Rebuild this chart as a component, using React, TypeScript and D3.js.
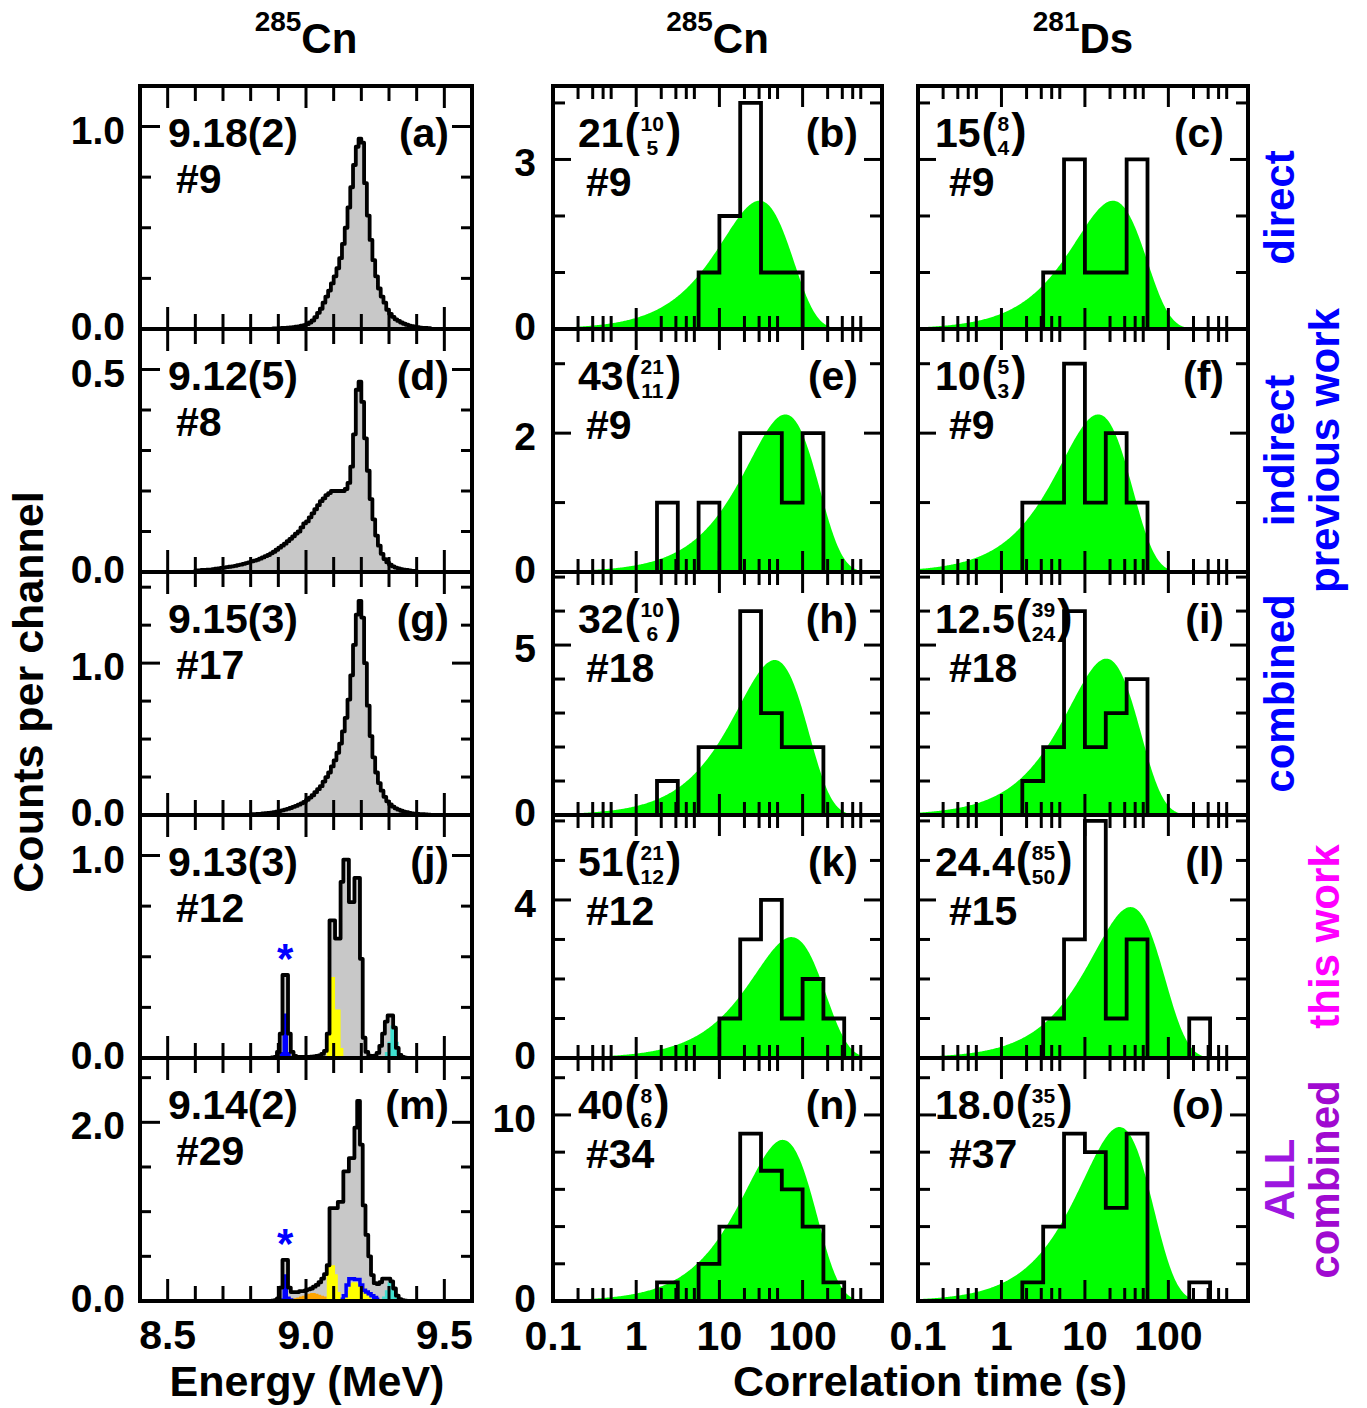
import * as d3 from 'd3';

const FONT = '"Liberation Sans", Arial, Helvetica, sans-serif';
const W = 1367;
const H = 1408;

// panel frames (pixels)
const colX: [number, number][] = [[140, 472], [553, 882], [918, 1248]];
const rowY = [86, 329, 572, 815, 1058, 1301];

// ---------- left column: alpha energy spectra (counts per 0.01 MeV channel) ----------
const energyDomain = [8.4, 9.6];
const channelWidth = 0.01;
const energyMax = [1.2, 0.6, 1.6, 1.2, 2.72];
const energyTickStep = [0.25, 0.1, 0.25, 0.25, 0.5];
const energyLabelTicks = [[0, 1], [0, 0.5], [0, 1], [0, 1], [0, 2]];
const energyTickLabels = [['0.0', '1.0'], ['0.0', '0.5'], ['0.0', '1.0'], ['0.0', '1.0'], ['0.0', '2.0']];

const specStart = [8.88, 8.6, 8.8, 8.855, 8.855];
const specA = [
  0.003, 0.003, 0.004, 0.005, 0.006, 0.007, 0.008, 0.009, 0.011, 0.013, 0.016, 0.019,
  0.024, 0.032, 0.042, 0.058, 0.08, 0.1, 0.13, 0.16, 0.19, 0.225,
  0.26, 0.3, 0.35, 0.42, 0.5, 0.6, 0.7, 0.81, 0.9, 0.94,
  0.92, 0.72, 0.56, 0.44, 0.34, 0.26, 0.2, 0.16, 0.13, 0.095,
  0.075, 0.06, 0.048, 0.04, 0.032, 0.026, 0.021, 0.017, 0.014, 0.011,
  0.009, 0.007, 0.006, 0.005, 0.004,
];
const specD = [
  0.004, 0.004, 0.005, 0.005, 0.006, 0.006, 0.007, 0.008, 0.009, 0.01,
  0.011, 0.012, 0.013, 0.014, 0.015, 0.017, 0.018, 0.02, 0.022, 0.024,
  0.026, 0.028, 0.03, 0.033, 0.036, 0.039, 0.042, 0.046, 0.05, 0.055,
  0.06, 0.065, 0.07, 0.076, 0.082, 0.088, 0.095, 0.1, 0.11, 0.12,
  0.125, 0.135, 0.145, 0.155, 0.165, 0.175, 0.182, 0.19, 0.195, 0.2,
  0.2, 0.2, 0.2, 0.2, 0.205, 0.22, 0.26, 0.34, 0.45, 0.47,
  0.42, 0.33, 0.25, 0.18, 0.13, 0.09, 0.065, 0.045, 0.032, 0.024,
  0.018, 0.014, 0.011, 0.009, 0.007, 0.006, 0.005, 0.004, 0.003, 0.003,
];
const specG = [
  0.005, 0.006, 0.007, 0.008, 0.01, 0.012, 0.014, 0.016, 0.019, 0.022,
  0.026, 0.03, 0.035, 0.04, 0.046, 0.053, 0.06, 0.068, 0.077, 0.087,
  0.1, 0.115, 0.13, 0.15, 0.17, 0.19, 0.22, 0.25, 0.28, 0.32,
  0.36, 0.41, 0.47, 0.55, 0.64, 0.76, 0.92, 1.12, 1.32, 1.41,
  1.3, 1.0, 0.72, 0.52, 0.38, 0.28, 0.21, 0.16, 0.12, 0.09,
  0.07, 0.055, 0.044, 0.035, 0.028, 0.022, 0.018, 0.014, 0.011, 0.009,
  0.007, 0.006, 0.005, 0.004, 0.003,
];
const specJ = [
  0, 0, 0.003, 0.006, 0.03, 0.12, 0.41, 0.41, 0.12, 0.03,
  0.01, 0.006, 0.005, 0.005, 0.005, 0.006, 0.007, 0.008, 0.01, 0.013,
  0.02, 0.035, 0.12, 0.68, 0.68, 0.59, 0.59, 0.87, 0.98, 0.98,
  0.77, 0.77, 0.89, 0.89, 0.49, 0.1, 0.03, 0.012, 0.01, 0.012,
  0.025, 0.06, 0.12, 0.18, 0.21, 0.21, 0.15, 0.05, 0.015, 0.005,
  0.002,
];
const specM = [
  0, 0.002, 0.005, 0.01, 0.03, 0.15, 0.46, 0.46, 0.15, 0.1,
  0.1, 0.1, 0.11, 0.11, 0.12, 0.13, 0.14, 0.16, 0.18, 0.21,
  0.25, 0.3, 0.4, 1.04, 1.04, 1.04, 1.11, 1.11, 1.45, 1.45,
  1.6, 1.6, 1.94, 2.24, 1.75, 1.07, 0.74, 0.5, 0.29, 0.2,
  0.19, 0.21, 0.25, 0.25, 0.25, 0.22, 0.14, 0.06, 0.02, 0.01,
  0.005,
];
const spectra = [specA, specD, specG, specJ, specM];

// coloured components of the (j) and (m) spectra (filled)
const compRow = [3, 3, 3, 4, 4, 4, 4];
const compColor = ['#0000ff', '#ffff00', '#40e0d0', '#0000ff', '#ffa500', '#ffff00', '#40e0d0'];
const compStart = [8.905, 9.075, 9.285, 8.905, 8.955, 9.075, 9.275];
const compValues = [
  [0.03, 0.22, 0.22, 0.03],
  [0.12, 0.4, 0.4, 0.24, 0.24, 0.05],
  [0.03, 0.08, 0.16, 0.16, 0.08, 0.02],
  [0.03, 0.3, 0.3, 0.05, 0.03],
  [0.03, 0.04, 0.05, 0.06, 0.07, 0.08, 0.09, 0.09, 0.08, 0.07, 0.06, 0.05],
  [0.4, 0.4, 0.4, 0.3, 0.1, 0.03, 0.06, 0.12, 0.2, 0.21, 0.21, 0.2, 0.18, 0.15, 0.1, 0.05],
  [0.05, 0.12, 0.21, 0.21, 0.12, 0.04],
];
// component drawn as a line only, in (m)
const lineCompRow = 4;
const lineCompStart = 9.125;
const lineCompValues = [0.02, 0.06, 0.18, 0.25, 0.25, 0.24, 0.24, 0.18, 0.12, 0.1, 0.08, 0.06, 0.04, 0.02];

const starRows = [3, 4];
const starEnergy = 8.925;
const starPeak = [0.41, 0.46];

// ---------- middle / right columns: correlation time histograms ----------
const timeDomain = [0.1, 900];
const binsPerDecade = 4;
const histB = [0, 0, 0, 0, 0, 0, 0, 1, 2, 4, 1, 1];
const histC = [0, 0, 0, 0, 0, 0, 1, 3, 1, 1, 3];
const histE = [0, 0, 0, 0, 0, 1, 0, 1, 0, 2, 2, 1, 2];
const histF = [0, 0, 0, 0, 0, 1, 1, 3, 1, 2, 1];
const histH = [0, 0, 0, 0, 0, 1, 0, 2, 2, 6, 3, 2, 2];
const histI = [0, 0, 0, 0, 0, 1, 2, 6, 2, 3, 4];
const histK = [0, 0, 0, 0, 0, 0, 0, 0, 1, 3, 4, 1, 2, 1];
const histL = [0, 0, 0, 0, 0, 0, 1, 3, 6, 1, 3, 0, 0, 1];
const histN = [0, 0, 0, 0, 0, 1, 0, 2, 4, 9, 7, 6, 4, 1];
const histO = [0, 0, 0, 0, 0, 1, 4, 9, 8, 5, 9, 0, 0, 1];
const histograms = [[histB, histC], [histE, histF], [histH, histI], [histK, histL], [histN, histO]];
const halfLives = [[21, 15], [43, 10], [32, 12.5], [51, 24.4], [40, 18.0]];
const curvePeaks = [[2.27, 2.27], [2.27, 2.27], [4.56, 4.6], [3.06, 3.82], [8.66, 9.35]];
const countMax = [4.3, 3.5, 7.15, 6.15, 13.06];
const countTickStep = [1, 1, 1, 1, 2];
const countLabelTicks = [[0, 3], [0, 2], [0, 5], [0, 4], [0, 10]];

// ---------- annotations ----------
const energyValues = ['9.18(2)', '9.12(5)', '9.15(3)', '9.13(3)', '9.14(2)'];
const energyCounts = ['#9', '#8', '#17', '#12', '#29'];
const halfLifeText = [['21', '15'], ['43', '10'], ['32', '12.5'], ['51', '24.4'], ['40', '18.0']];
const halfLifeUp = [['10', '8'], ['21', '5'], ['10', '39'], ['21', '85'], ['8', '35']];
const halfLifeDown = [['5', '4'], ['11', '3'], ['6', '24'], ['12', '50'], ['6', '25']];
const timeCounts = [['#9', '#9'], ['#9', '#9'], ['#18', '#18'], ['#12', '#15'], ['#34', '#37']];
const panelLetters = [['a', 'b', 'c'], ['d', 'e', 'f'], ['g', 'h', 'i'], ['j', 'k', 'l'], ['m', 'n', 'o']];
const colTitleMass = ['285', '285', '281'];
const colTitleElem = ['Cn', 'Cn', 'Ds'];
const energyTicks = [8.5, 9.0, 9.5];
const timeTicks = [0.1, 1, 10, 100];
const sideLabels = [
  { text: 'direct', row: 0, lane: 0, color: '#0000ff' },
  { text: 'indirect', row: 1, lane: 0, color: '#0000ff' },
  { text: 'previous work', row: 1, lane: 1, color: '#0000ff' },
  { text: 'combined', row: 2, lane: 0, color: '#0000ff' },
  { text: 'this work', row: 3, lane: 1, color: '#ff00ff' },
  { text: 'ALL', row: 4, lane: 0, color: '#9d17e0' },
  { text: 'combined', row: 4, lane: 1, color: '#a00ad0' },
];

const bold = { fontFamily: FONT, fontWeight: 700 } as const;
const TXT = 41;
const TICK = 39;
const FRAC = 21;
const charW = (s: string) => s.split('').reduce((a, c) => a + (c === '.' ? 0.278 : 0.556), 0);

function stepPoints(start: number, width: number, vals: number[]): [number, number][] {
  const pts: [number, number][] = [[start, 0]];
  vals.forEach((v, i) => {
    pts.push([start + i * width, v], [start + (i + 1) * width, v]);
  });
  pts.push([start + vals.length * width, 0]);
  return pts;
}

const edge = (i: number) => Math.pow(10, -1 + i / binsPerDecade);

function histPoints(counts: number[]): [number, number][] {
  const first = counts.findIndex(c => c > 0);
  const pts: [number, number][] = [[edge(first), 0]];
  for (let i = first; i < counts.length; i++) {
    pts.push([edge(i), counts[i]], [edge(i + 1), counts[i]]);
  }
  pts.push([edge(counts.length), 0]);
  return pts;
}

type TickProps = {
  x0: number; x1: number; yb: number; yt: number;
  xMaj: number[]; xMin: number[]; yMaj: number[]; yMin: number[];
  xMajLen: number; xMinLen: number; yMajLen: number; yMinLen: number;
};

function Ticks(p: TickProps) {
  const segs: [number, number, number, number][] = [];
  p.xMaj.forEach(px => segs.push([px, p.yb, px, p.yb - p.xMajLen], [px, p.yt, px, p.yt + p.xMajLen]));
  p.xMin.forEach(px => segs.push([px, p.yb, px, p.yb - p.xMinLen], [px, p.yt, px, p.yt + p.xMinLen]));
  p.yMaj.forEach(py => segs.push([p.x0, py, p.x0 + p.yMajLen, py], [p.x1, py, p.x1 - p.yMajLen, py]));
  p.yMin.forEach(py => segs.push([p.x0, py, p.x0 + p.yMinLen, py], [p.x1, py, p.x1 - p.yMinLen, py]));
  return (
    <g stroke="black" strokeWidth={3}>
      {segs.map((s, i) => <line key={i} x1={s[0]} y1={s[1]} x2={s[2]} y2={s[3]} />)}
    </g>
  );
}

// baseline offset of a y tick label: zero labels sit a little higher, upper labels a little lower
const labelDy = (v: number) => (v === 0 ? 11 : 17);

function EnergyPanel({ row }: { row: number }) {
  const [x0, x1] = colX[0];
  const yb = rowY[row + 1];
  const yt = rowY[row];
  const x = d3.scaleLinear().domain(energyDomain).range([x0, x1]);
  const y = d3.scaleLinear().domain([0, energyMax[row]]).range([yb, yt]);
  const line = d3.line<[number, number]>().x(d => x(d[0])).y(d => y(d[1]));
  const pts = stepPoints(specStart[row], channelWidth, spectra[row]);
  const path = line(pts) || '';
  const xAll = d3.range(84, 97).map(v => v / 10).filter(v => v > 8.41 && v < 9.59);
  const xMaj = xAll.filter(v => energyTicks.some(t => Math.abs(t - v) < 1e-6));
  const xMin = xAll.filter(v => !xMaj.includes(v));
  const step = energyTickStep[row];
  const yAll = d3.range(1, Math.floor(energyMax[row] / step + 1e-6) + 1).map(k => k * step);
  const yMaj = yAll.filter(v => energyLabelTicks[row].some(t => Math.abs(t - v) < 1e-6));
  const yMin = yAll.filter(v => !yMaj.includes(v));
  const comps = compRow.map((r, i) => ({ r, i })).filter(c => c.r === row);
  const letter = panelLetters[row][0];
  const linePts = stepPoints(lineCompStart, channelWidth, lineCompValues).slice(1, -1);
  return (
    <g>
      <path d={path} fill="#c8c8c8" />
      {comps.map(({ i }) => (
        <path key={i} d={line(stepPoints(compStart[i], channelWidth, compValues[i])) || ''} fill={compColor[i]} />
      ))}
      {row === lineCompRow && (
        <path d={line(linePts) || ''} fill="none" stroke="#0000ff" strokeWidth={3.5} />
      )}
      <path d={path} fill="none" stroke="black" strokeWidth={3.8} strokeLinejoin="round" />
      {starRows.map((r, i) => r === row && (
        <text key={i} x={x(starEnergy)} y={y(starPeak[i]) - 2} textAnchor="middle" fontSize={42} fill="#0000ff" {...bold}>*</text>
      ))}
      <Ticks x0={x0} x1={x1} yb={yb} yt={yt}
        xMaj={xMaj.map(x)} xMin={xMin.map(x)} yMaj={yMaj.map(y)} yMin={yMin.map(y)}
        xMajLen={22} xMinLen={15} yMajLen={20} yMinLen={11} />
      <rect x={x0} y={yt} width={x1 - x0} height={yb - yt} fill="none" stroke="black" strokeWidth={4} />
      {energyLabelTicks[row].map((v, i) => (
        <text key={i} x={125} y={y(v) + labelDy(v)} textAnchor="end" fontSize={TICK} {...bold}>{energyTickLabels[row][i]}</text>
      ))}
      <text x={x0 + 28} y={yt + 61} fontSize={TXT} {...bold}>{energyValues[row]}</text>
      <text x={x0 + 36} y={yt + 107} fontSize={TXT} {...bold}>{energyCounts[row]}</text>
      <text x={x1 - 23} y={yt + 61} fontSize={TXT} textAnchor="end" {...bold}>({letter})</text>
    </g>
  );
}

function TimePanel({ row, col }: { row: number; col: number }) {
  const [x0, x1] = colX[col];
  const yb = rowY[row + 1];
  const yt = rowY[row];
  const k = col - 1;
  const x = d3.scaleLog().domain(timeDomain).range([x0, x1]);
  const y = d3.scaleLinear().domain([0, countMax[row]]).range([yb, yt]);
  const tau = halfLives[row][k] / Math.LN2;
  const peak = curvePeaks[row][k];
  const logT = d3.range(0, 401).map(i => -1 + (i / 400) * Math.log10(timeDomain[1] / timeDomain[0]));
  const area = d3.area<number>()
    .x(lt => x(Math.pow(10, lt)))
    .y0(yb)
    .y1(lt => {
      const r = Math.pow(10, lt) / tau;
      return y(peak * r * Math.exp(1 - r));
    });
  const line = d3.line<[number, number]>().x(d => x(d[0])).y(d => y(d[1]));
  const hist = line(histPoints(histograms[row][k])) || '';
  const xMaj = timeTicks.map(x);
  const xMin = [0.1, 1, 10, 100].flatMap(d => [2, 3, 4, 5].map(m => m * d)).map(x);
  const step = countTickStep[row];
  const yAll = d3.range(1, Math.floor(countMax[row] / step) + 1).map(v => v * step);
  const yMaj = yAll.filter(v => countLabelTicks[row].includes(v));
  const yMin = yAll.filter(v => !yMaj.includes(v));
  const clipId = `clip-${row}-${col}`;
  const main = halfLifeText[row][k];
  const w = charW(main) * TXT;
  const tx = x0 + (col === 1 ? 25 : 17);
  const up = halfLifeUp[row][k];
  const down = halfLifeDown[row][k];
  const fracW = Math.max(charW(up), charW(down)) * FRAC;
  const parenX = tx + w + 1;
  const fracC = parenX + 16 + fracW / 2;
  return (
    <g>
      <defs>
        <clipPath id={clipId}><rect x={x0} y={yt} width={x1 - x0} height={yb - yt} /></clipPath>
      </defs>
      <g clipPath={`url(#${clipId})`}>
        <path d={area(logT) || ''} fill="#00ff00" />
        <path d={hist} fill="none" stroke="black" strokeWidth={3.8} strokeLinejoin="miter" />
      </g>
      <Ticks x0={x0} x1={x1} yb={yb} yt={yt}
        xMaj={xMaj} xMin={xMin} yMaj={yMaj.map(y)} yMin={yMin.map(y)}
        xMajLen={21} xMinLen={13} yMajLen={18} yMinLen={12} />
      <rect x={x0} y={yt} width={x1 - x0} height={yb - yt} fill="none" stroke="black" strokeWidth={4} />
      {col === 1 && countLabelTicks[row].map(v => (
        <text key={v} x={536} y={y(v) + labelDy(v)} textAnchor="end" fontSize={TICK} {...bold}>{v}</text>
      ))}
      <text x={tx} y={yt + 61} fontSize={TXT} {...bold}>{main}</text>
      <text x={parenX} y={yt + 60} fontSize={46} {...bold}>(</text>
      <text x={fracC} y={yt + 45} fontSize={FRAC} textAnchor="middle" {...bold}>{up}</text>
      <text x={fracC} y={yt + 69} fontSize={FRAC} textAnchor="middle" {...bold}>{down}</text>
      <text x={fracC + fracW / 2 + 2} y={yt + 60} fontSize={46} {...bold}>)</text>
      <text x={x0 + (col === 1 ? 33 : 31)} y={yt + 110} fontSize={TXT} {...bold}>{timeCounts[row][k]}</text>
      <text x={x1 - 24} y={yt + 61} fontSize={TXT} textAnchor="end" {...bold}>({panelLetters[row][col]})</text>
    </g>
  );
}

export default function App() {
  const ex = d3.scaleLinear().domain(energyDomain).range(colX[0]);
  const rows = [0, 1, 2, 3, 4];
  return (
    <svg width={W} height={H} style={{ position: 'absolute', left: 0, top: 0, background: 'white' }}>
      <rect width={W} height={H} fill="white" />
      {rows.map(r => <EnergyPanel key={`e${r}`} row={r} />)}
      {rows.map(r => <TimePanel key={`t1${r}`} row={r} col={1} />)}
      {rows.map(r => <TimePanel key={`t2${r}`} row={r} col={2} />)}

      {colX.map(([a, b], i) => (
        <text key={i} x={(a + b) / 2} y={53} textAnchor="middle" {...bold}>
          <tspan fontSize={28} dy={-22}>{colTitleMass[i]}</tspan>
          <tspan fontSize={42} dy={22}>{colTitleElem[i]}</tspan>
        </text>
      ))}

      {energyTicks.map(v => (
        <text key={v} x={ex(v)} y={1349} textAnchor="middle" fontSize={TXT} {...bold}>{v.toFixed(1)}</text>
      ))}
      {[1, 2].map(c => {
        const tx = d3.scaleLog().domain(timeDomain).range(colX[c]);
        return timeTicks.map(v => (
          <text key={`${c}-${v}`} x={tx(v)} y={1350} textAnchor="middle" fontSize={TXT} {...bold}>{String(v)}</text>
        ));
      })}

      <text x={307} y={1396} textAnchor="middle" fontSize={43} {...bold}>Energy (MeV)</text>
      <text x={930} y={1396} textAnchor="middle" fontSize={43} {...bold}>Correlation time (s)</text>
      <text transform="translate(43,692) rotate(-90)" textAnchor="middle" fontSize={43} {...bold}>Counts per channel</text>

      {sideLabels.map((s, i) => {
        const cy = (rowY[s.row] + rowY[s.row + 1]) / 2;
        const cx = s.lane === 0 ? 1294 : 1339;
        return (
          <text key={i} transform={`translate(${cx},${cy}) rotate(-90)`} textAnchor="middle" fontSize={42} fill={s.color} {...bold}>{s.text}</text>
        );
      })}
    </svg>
  );
}
